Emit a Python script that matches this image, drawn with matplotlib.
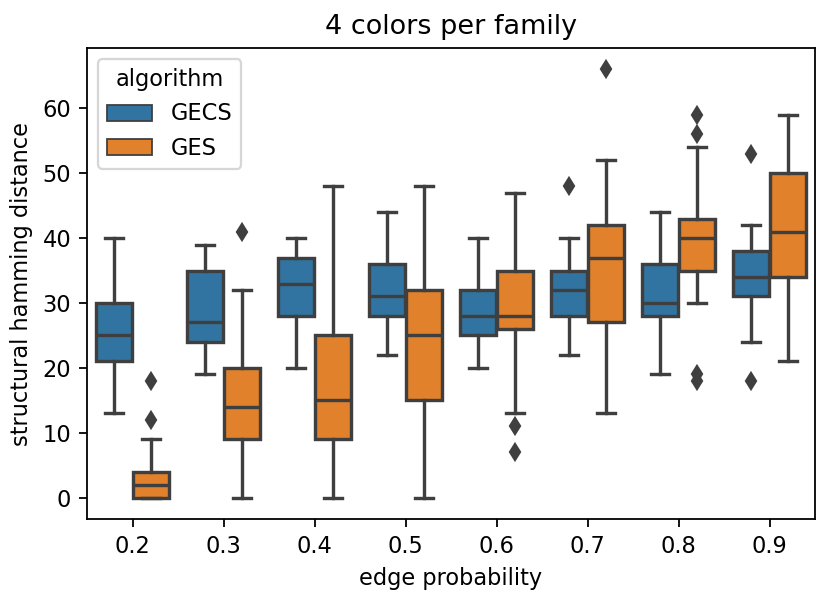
import matplotlib
matplotlib.use("Agg")
import matplotlib.pyplot as plt
from matplotlib.patches import Patch

categories = ["0.2", "0.3", "0.4", "0.5", "0.6", "0.7", "0.8", "0.9"]
series_names = ["GECS", "GES"]

gecs_whislo = [13, 19, 20, 22, 20, 22, 19, 24]
gecs_q1     = [21, 24, 28, 28, 25, 28, 28, 31]
gecs_med    = [25, 27, 33, 31, 28, 32, 30, 34]
gecs_q3     = [30, 35, 37, 36, 32, 35, 36, 38]
gecs_whishi = [40, 39, 40, 44, 40, 40, 44, 42]
gecs_fliers = [[], [], [], [], [], [48], [], [53, 18]]

ges_whislo = [0, 0, 0, 0, 13, 13, 30, 21]
ges_q1     = [0, 9, 9, 15, 26, 27, 35, 34]
ges_med    = [2, 14, 15, 25, 28, 37, 40, 41]
ges_q3     = [4, 20, 25, 32, 35, 42, 43, 50]
ges_whishi = [9, 32, 48, 48, 47, 52, 54, 59]
ges_fliers = [[12, 18], [41], [], [], [11, 7], [66], [56, 59, 18, 19], []]

colors = ["#3274a1", "#e1812c"]
gray = "#3f3f3f"

DPI = 162
fig = plt.figure(figsize=(830 / DPI, 601 / DPI), dpi=DPI)
ax = fig.add_axes([87 / 830, 1 - 519 / 601, (815 - 87) / 830, (519 - 48) / 601])

def stats(wl, q1, med, q3, wh, fl):
    out = []
    for i in range(len(wl)):
        out.append(dict(whislo=wl[i], q1=q1[i], med=med[i], q3=q3[i],
                        whishi=wh[i], fliers=fl[i]))
    return out

all_stats = [
    stats(gecs_whislo, gecs_q1, gecs_med, gecs_q3, gecs_whishi, gecs_fliers),
    stats(ges_whislo, ges_q1, ges_med, ges_q3, ges_whishi, ges_fliers),
]

width = 0.8
n = len(series_names)
each = width / n
for j, st in enumerate(all_stats):
    offset = -width / 2 + each / 2 + j * each
    pos = [i + offset for i in range(len(categories))]
    ax.bxp(st, positions=pos, widths=each * 0.98, patch_artist=True,
           showfliers=True, manage_ticks=False,
           boxprops=dict(facecolor=colors[j], edgecolor=gray, linewidth=1.5),
           medianprops=dict(color=gray, linewidth=1.5),
           whiskerprops=dict(color=gray, linewidth=1.5),
           capprops=dict(color=gray, linewidth=1.5),
           flierprops=dict(marker="d", markersize=5, markerfacecolor=gray,
                           markeredgecolor=gray, linestyle="none"))

ax.set_xticks(range(len(categories)))
ax.set_xticklabels(categories)
ax.set_xlim(-0.5, len(categories) - 0.5)
ax.set_ylim(-3.3, 69.3)
ax.set_yticks([0, 10, 20, 30, 40, 50, 60])
ax.set_xlabel("edge probability")
ax.set_ylabel("structural hamming distance")
ax.set_title("4 colors per family")

handles = [Patch(facecolor=colors[k], edgecolor=gray, linewidth=0.8, label=series_names[k])
           for k in range(n)]
ax.legend(handles=handles, title="algorithm", loc="upper left")

fig.savefig("out.png", dpi=DPI)
